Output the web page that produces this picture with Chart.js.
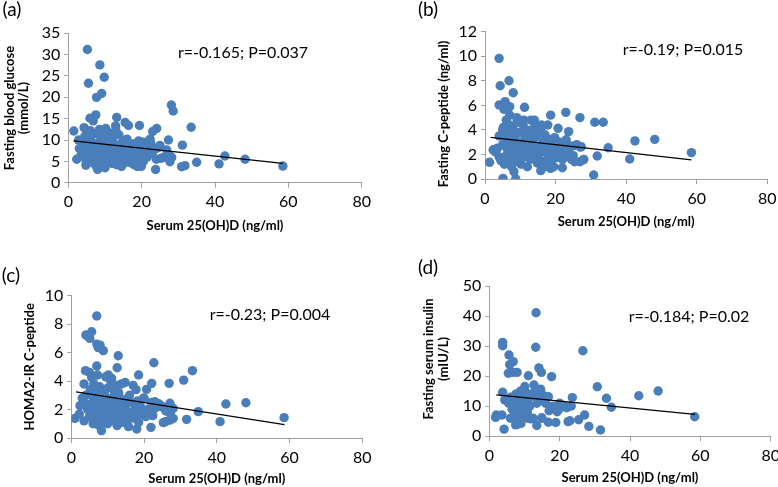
<!DOCTYPE html>
<html><head><meta charset="utf-8">
<script src="https://cdn.jsdelivr.net/npm/chart.js@4"></script>
<style>
html,body{margin:0;padding:0;background:#fff;overflow:hidden;width:778px;height:487px}
.p{position:absolute}
</style></head><body>
<div class="p" style="left:0;top:0"><canvas id="ca" width="389" height="240"></canvas></div>
<div class="p" style="left:389px;top:0"><canvas id="cb" width="389" height="240"></canvas></div>
<div class="p" style="left:0;top:240px"><canvas id="cc" width="389" height="247"></canvas></div>
<div class="p" style="left:389px;top:240px"><canvas id="cd" width="389" height="247"></canvas></div>
<script>
// ---------- DATA (x = Serum 25(OH)D ng/ml, y = outcome) ----------
const xTicks = [0, 20, 40, 60, 80];
const glucoseTicks = [0, 5, 10, 15, 20, 25, 30, 35];
const cpeptideTicks = [0, 2, 4, 6, 8, 10, 12];
const homaTicks = [0, 2, 4, 6, 8, 10];
const insulinTicks = [0, 10, 20, 30, 40, 50];

const glucosePoints = [
[5.2,31.2],[8.6,27.6],[9.8,24.7],[5.5,23.3],[9.1,20.9],[7.7,20.0],[28.1,18.2],[28.6,16.8],[7.5,15.9],[5.9,15.1],
[6.8,14.5],[13.2,15.3],[15.5,14.1],[16.4,13.4],[19.4,13.4],[33.5,13.0],[10.2,12.7],[24.1,12.7],[23.0,12.0],[1.5,12.1],
[4.3,12.9],[12.9,13.3],[4.5,10.8],[2.8,10.0],[27.3,10.0],[31.1,8.8],[10.5,10.2],[22.3,10.2],[19.1,9.4],[17.7,9.1],
[25.0,8.7],[2.3,5.5],[4.8,4.1],[8.0,3.1],[23.8,3.1],[30.9,3.75],[31.8,4.0],[35.0,4.8],[41.1,4.4],[42.7,6.25],
[48.2,5.5],[58.5,3.9],[25.9,5.9],[28.2,5.9],[27.7,4.9],[26.8,7.7],[22.1,9.25],[25.3,5.7],[27.6,6.5],[20.8,6.9],
[20.3,5.3],[19.4,4.9],[19.9,3.8],
[3.5,6.5],[4,7.2],[4.2,8.5],[4.8,5.2],[5,6.0],[5.2,9.5],[5.5,7.8],[5.8,4.8],[6,10.5],[6.2,6.5],
[6.5,8.8],[6.8,5.5],[7,7.0],[7.2,11.5],[7.5,6.2],[7.8,9.2],[8,4.5],[8.2,8.0],[8.5,6.8],[8.8,10.0],
[9,5.2],[9.2,7.5],[9.5,11.0],[9.8,6.0],[10,8.5],[10.2,4.2],[10.5,7.0],[10.8,9.8],[11,5.5],[11.2,8.0],
[11.5,6.5],[11.8,4.8],[12,10.5],[12.2,7.2],[12.5,5.8],[12.8,9.0],[13,6.2],[13.2,4.2],[13.5,8.0],[13.8,11.2],
[14,5.0],[14.2,7.5],[14.5,6.0],[14.8,9.5],[15,4.5],[15.2,7.0],[15.5,5.5],[15.8,8.5],[16,6.5],[16.5,4.8],
[16.8,7.8],[17,5.8],[17.5,9.0],[17.8,4.3],[18,6.8],[18.2,8.2],[18.5,5.2],[18.8,3.8],[19,7.2],[19.2,9.8],
[19.5,5.8],[19.8,4.2],[20,6.5],[20.2,8.8],[20.5,5.0],[21,7.5],[21.5,6.0],[22,8.5],[22.5,9.2],[22.8,6.8],
[23.5,7.8],[24,5.5],[24.5,8.2],[6,12.2],[8.5,12.5],[11,11.8],[13,12.2],[3,8],[4.5,10.5],[5,11.5],
[9,9],[11.5,9.5],[7.5,4.0],[10,3.5],[12,4.5],[14.5,3.8],[16,10.2],[17,8.6],[20.5,9.5],[6.5,7.2],
[8,5.8],[9.5,6.5],[11,7.2],[13,7.8],[15,8.0],[12,6.5],[10,5.5],[7,8.5],[5.5,6.8]
];
const glucoseTrendX = [1.4, 58.5];
const glucoseTrendY = [9.82, 4.55];

const cpeptidePoints = [
[4.0,9.83],[4.3,7.6],[6.8,8.0],[8.0,7.03],[4.0,6.03],[5.7,6.3],[7.0,5.9],[5.4,5.67],[11.2,5.84],[18.6,5.2],
[22.9,5.43],[26.9,5.0],[31.1,4.62],[33.5,4.62],[20.7,4.13],[23.7,3.86],[19.7,3.37],[34.9,2.55],[41.0,1.63],[42.5,3.1],
[48.1,3.23],[58.5,2.15],[31.8,1.87],[30.8,0.33],[5.1,0.05],[8.7,0.02],[1.3,1.36],[8.2,0.6],[15.8,0.68],[18.6,0.87],
[21.9,0.92],[27.3,2.63],[25.0,2.7],[27.8,1.55],[26.9,1.41],[25.4,1.41],[23.7,2.15],[22.1,1.82],[20.2,1.74],[22.4,3.04],
[23.1,2.9],[19.8,3.3],[2.3,2.36],
[3.5,2.5],[4,3.5],[4.5,1.5],[5,2.8],[5.2,4.2],[5.5,1.2],[6,3.2],[6.2,2.0],[6.5,4.5],[6.8,1.6],
[7,3.8],[7.2,2.4],[7.5,1.0],[7.8,4.2],[8,2.8],[8.2,1.8],[8.5,3.5],[8.8,2.2],[9,4.6],[9.2,1.4],
[9.5,3.0],[9.8,2.0],[10,3.8],[10.2,1.2],[10.5,2.6],[10.8,4.4],[11,1.8],[11.2,3.2],[11.5,2.2],[11.8,4.0],
[12,1.0],[12.2,2.8],[12.5,3.6],[12.8,1.6],[13,4.8],[13.2,2.4],[13.5,3.0],[13.8,1.8],[14,4.2],[14.2,2.0],
[14.5,3.4],[14.8,1.3],[15,2.6],[15.2,3.8],[15.5,1.6],[15.8,4.0],[16,2.2],[16.5,3.0],[16.8,1.4],[17,3.6],
[17.5,2.4],[17.8,4.4],[18,1.8],[18.2,3.2],[18.5,2.8],[18.8,1.2],[19,2.2],[19.5,3.0],[20,2.6],[20.5,1.8],
[21,3.0],[21.5,2.2],[22,1.6],[22.5,2.8],[23,3.2],[23.5,2.0],[24,2.6],[24.5,1.6],[26,2.8],[27,2.6],
[28,1.6],[25,1.9],[5,4.0],[6,4.8],[7,5.2],[9,5.0],[11,4.8],[14,4.8],[16,4.4],[10,1.6],
[12,2.0],[8,3.2],[6,2.6],[4,1.8],[3,2.2],[2.5,2.4],[5.5,3.6],[9.5,3.8],[13,3.9],[15,4.1],
[17,1.0],[19.5,1.0],[7.5,2.9],[11.5,3.9]
];
const cpeptideTrendX = [1.6, 58.5];
const cpeptideTrendY = [3.39, 1.55];

const homaPoints = [
[7.0,8.57],[4.0,7.24],[4.5,7.17],[5.6,7.47],[5.1,7.0],[7.0,6.6],[7.9,6.53],[7.4,6.35],[8.8,6.14],[12.9,5.78],
[22.7,5.29],[12.6,4.94],[33.3,4.73],[30.9,4.07],[7.0,5.06],[3.9,4.73],[5.6,4.26],[7.2,4.43],[10.2,4.43],[11.1,4.19],
[18.5,4.43],[22.1,3.84],[26.9,3.84],[20.7,3.42],[42.5,2.39],[48.0,2.48],[58.5,1.43],[34.9,1.85],[31.7,1.31],[40.9,1.15],
[27.1,1.26],[25.9,1.15],[28.0,1.38],[25.3,1.08],[1.0,1.38],[2.2,1.69],[2.4,2.27],[8.3,0.52],[18.0,0.63],[21.9,0.75],
[15.7,0.8],[12.6,0.87],[22.4,1.57],[27.1,2.44],[27.3,1.85],[28.0,2.08],[23.0,2.55],[23.9,2.4],[24.8,2.2],[19.8,2.79],
[3,2.8],[3.5,1.2],[4,3.0],[4.5,2.0],[5,1.5],[5.2,3.4],[5.5,2.4],[6,1.0],[6.2,3.8],[6.5,2.8],
[6.8,1.8],[7,3.2],[7.2,1.3],[7.5,2.4],[7.8,3.6],[8,1.6],[8.2,2.8],[8.5,3.4],[8.8,1.1],[9,2.0],
[9.2,3.0],[9.5,1.5],[9.8,2.6],[10,3.5],[10.2,1.8],[10.5,2.3],[10.8,4.0],[11,1.4],[11.2,2.8],[11.5,1.9],
[11.8,3.3],[12,1.2],[12.2,2.4],[12.5,3.7],[12.8,1.7],[13,2.2],[13.2,2.9],[13.5,1.4],[13.8,3.8],[14,2.0],
[14.2,2.6],[14.5,1.6],[14.8,3.9],[15,2.3],[15.2,1.2],[15.5,2.8],[16,1.8],[16.5,2.5],[16.8,1.4],[17,3.7],
[17.5,2.0],[17.8,3.4],[18,1.5],[18.2,2.6],[18.5,1.1],[19,2.2],[19.5,1.7],[20,2.8],[20.5,1.5],[21,2.0],
[21.5,1.8],[22,2.5],[22.5,2.3],[23,2.1],[23.5,2.2],[24,2.4],[24.5,2.3],[25,2.2],[26,1.9],[27,1.8],
[5,4.6],[6,4.3],[9,3.3],[11,3.7],[13,3.2],[4,2.4],[6,2.0],[8,2.2],[10,1.0],[12,1.9],
[14,1.1],[3.5,3.8],[16,3.0],[19,1.9],[5.5,3.0],[7.5,0.9],[9.5,4.3]
];
const homaTrendX = [1.3, 58.6];
const homaTrendY = [3.24, 0.94];

const insulinPoints = [
[13.3,41.2],[3.8,31.3],[3.8,30.2],[13.2,29.7],[26.6,28.5],[5.6,27.1],[6.8,24.9],[5.8,23.9],[14.1,22.8],[14.8,21.3],
[5.4,21.0],[6.8,21.3],[7.9,21.3],[11.1,20.2],[17.7,19.9],[30.7,16.5],[10.1,16.6],[12.7,17.1],[14.6,15.7],[48.0,15.1],
[42.5,13.5],[33.3,12.7],[23.6,12.9],[16.8,13.2],[3.8,14.7],[34.7,9.7],[58.4,6.5],[27.1,7.1],[25.4,5.5],[28.3,3.3],
[31.6,2.1],[4.2,2.4],[13.5,3.6],[7.5,3.8],[9.0,4.3],[16.8,4.7],[18.9,4.6],[22.4,4.9],[22.9,5.2],[2.0,7.1],
[3.6,7.1],[11.8,5.8],[14.9,6.2],[19.3,8.2],[20.5,10.4],[22.4,9.9],[23.3,10.1],[20.0,9.3],[19.5,8.8],[1.8,6.3],
[4.4,12.1],
[5.5,11],[6,13],[6.5,9],[7,12],[7.2,7],[7.5,14],[7.8,10],[8,6],[8.2,12.5],[8.5,8.5],
[8.8,15],[9,11],[9.2,7.5],[9.5,13],[9.8,9.5],[10,6.5],[10.2,11.5],[10.5,14.5],[10.8,8],[11,12],
[11.5,10],[12,13.5],[12.5,6],[13,15],[13.5,11],[14,12.5],[14.5,14],[15,6],[15.5,13.5],[16,11],
[17,8.5],[18,10],[19,9],[20,11],[21,10],[22,9.5],[6,6],[8,4],[9,5.5],[10,9],
[12,14],[6.8,12.8],[8.5,13.5],[7,10.5],[9,14],[11,6]
];
const insulinTrendX = [2.0, 58.5];
const insulinTrendY = [13.8, 7.3];

// ---------- STYLE ----------
const FONT = 'Lato, "Open Sans", sans-serif';
const AXIS = '#a0a0a0';
const DOT = '#4a7ebb';

const textPlugin = {
  id: 'texts',
  afterDraw(chart, args, opts) {
    const ctx = chart.ctx, ca = chart.chartArea;
    (opts.items || []).forEach(it => {
      ctx.save();
      ctx.font = it.font;
      ctx.fillStyle = '#000';
      ctx.textAlign = 'center';
      ctx.textBaseline = 'middle';
      const x = it.x === 'center' ? (ca.left + ca.right) / 2 : it.x;
      const y = it.y === 'center' ? (ca.top + ca.bottom) / 2 : it.y;
      ctx.translate(x, y);
      if (it.rot) ctx.rotate(-Math.PI / 2);
      ctx.fillText(it.text, 0, 0);
      ctx.restore();
    });
  }
};

function zeroPad(s) { s.paddingLeft = 0; s.paddingRight = 0; s.paddingTop = 0; s.paddingBottom = 0; }

function makeChart(id, pts, tx, ty, yTicks, sp) {
  const yMax = yTicks[yTicks.length - 1];
  const H = document.getElementById(id).height;
  return new Chart(document.getElementById(id), {
    type: 'scatter',
    data: {
      datasets: [
        { type: 'line', data: tx.map((x, i) => ({ x: x, y: ty[i] })), borderColor: '#000', borderWidth: 1.3,
          pointRadius: 0, fill: false, showLine: true },
        { data: pts.map(p => ({ x: p[0], y: p[1] })), backgroundColor: DOT, borderWidth: 0,
          pointRadius: 4.7, pointHoverRadius: 4.7 }
      ]
    },
    options: {
      responsive: false, animation: false,
      layout: { padding: { left: 0, top: sp.top, right: sp.right, bottom: 0 } },
      plugins: { legend: { display: false }, tooltip: { enabled: false }, texts: { items: sp.items } },
      scales: {
        x: {
          type: 'linear', min: 0, max: 80,
          afterBuildTicks: s => { s.ticks = xTicks.map(v => ({ value: v })); },
          afterFit: s => { s.height = H - sp.bottom; zeroPad(s); },
          ticks: { font: { family: FONT, size: 16 }, color: '#000', padding: 5, maxRotation: 0, autoSkip: false },
          grid: { drawOnChartArea: false, drawTicks: true, tickLength: 5, color: AXIS },
          border: { display: true, color: AXIS, width: 1 }
        },
        y: {
          type: 'linear', min: 0, max: yMax,
          afterBuildTicks: s => { s.ticks = yTicks.map(v => ({ value: v })); },
          afterFit: s => { s.width = sp.left; zeroPad(s); },
          ticks: { font: { family: FONT, size: 16 }, color: '#000', padding: 4, autoSkip: false },
          grid: { drawOnChartArea: false, drawTicks: true, tickLength: 4, color: AXIS },
          border: { display: true, color: AXIS, width: 1 }
        }
      }
    },
    plugins: [textPlugin]
  });
}

const TB = 'bold 13px ' + FONT;
const NOTE = '16px ' + FONT;
const LAB = '19px ' + FONT;

makeChart('ca', glucosePoints, glucoseTrendX, glucoseTrendY, glucoseTicks, {
  left: 68.3, top: 33.3, right: 27.3, bottom: 182.7,
  items: [
    { text: '(a)', x: 12, y: 10, font: LAB },
    { text: 'r=-0.165; P=0.037', x: 243, y: 53, font: NOTE },
    { text: 'Fasting blood glucose', x: 10, y: 'center', font: TB, rot: true },
    { text: '(mmol/L)', x: 24, y: 'center', font: TB, rot: true },
    { text: 'Serum 25(OH)D (ng/ml)', x: 'center', y: 226, font: TB }
  ]
});
makeChart('cb', cpeptidePoints, cpeptideTrendX, cpeptideTrendY, cpeptideTicks, {
  left: 96, top: 31.7, right: 10.7, bottom: 179,
  items: [
    { text: '(b)', x: 39, y: 10, font: LAB },
    { text: 'r=-0.19; P=0.015', x: 294, y: 50, font: NOTE },
    { text: 'Fasting C-peptide (ng/ml)', x: 55, y: 114, font: TB, rot: true },
    { text: 'Serum 25(OH)D (ng/ml)', x: 'center', y: 222, font: TB }
  ]
});
makeChart('cc', homaPoints, homaTrendX, homaTrendY, homaTicks, {
  left: 71.3, top: 55.7, right: 26.7, bottom: 198,
  items: [
    { text: '(c)', x: 11, y: 36, font: LAB },
    { text: 'r=-0.23; P=0.004', x: 270, y: 75, font: NOTE },
    { text: 'HOMA2-IR C-peptide', x: 30, y: 'center', font: TB, rot: true },
    { text: 'Serum 25(OH)D (ng/ml)', x: 'center', y: 239, font: TB }
  ]
});
makeChart('cd', insulinPoints, insulinTrendX, insulinTrendY, insulinTicks, {
  left: 100.3, top: 46.3, right: 7.3, bottom: 196.3,
  items: [
    { text: '(d)', x: 39, y: 28, font: LAB },
    { text: 'r=-0.184; P=0.02', x: 300, y: 77, font: NOTE },
    { text: 'Fasting serum insulin', x: 40, y: 119, font: TB, rot: true },
    { text: '(mIU/L)', x: 55, y: 119, font: TB, rot: true },
    { text: 'Serum 25(OH)D (ng/ml)', x: 'center', y: 238, font: TB }
  ]
});
</script>
</body></html>
